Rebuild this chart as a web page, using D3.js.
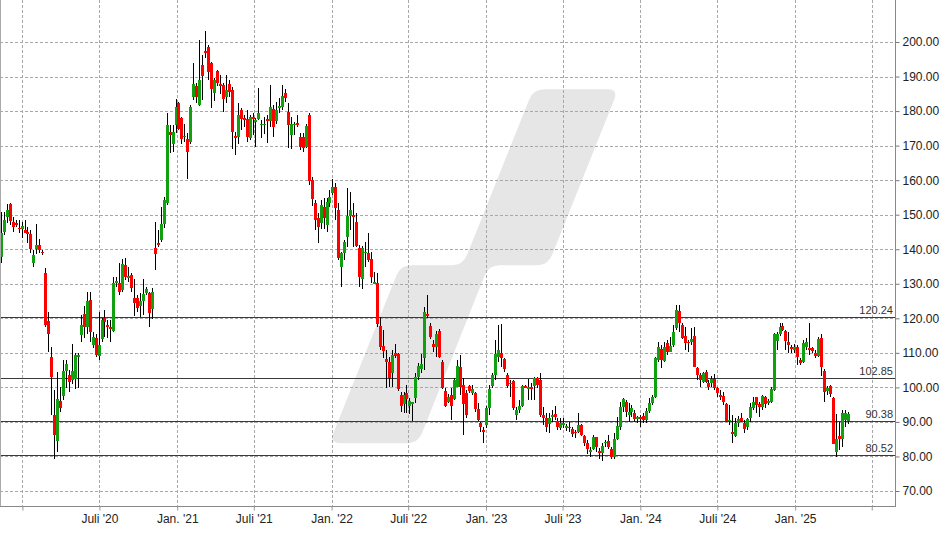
<!DOCTYPE html>
<html><head><meta charset="utf-8">
<script src="https://cdn.jsdelivr.net/npm/d3@7"></script>
<style>
body{margin:0;background:#fff;}
svg{display:block;font-family:"Liberation Sans",Arial,sans-serif;}
</style>
</head><body>
<svg id="chart" width="948" height="534"></svg>
<script>
// ---------- DATA (weekly candles) ----------
const firstWeek = "2019-11-11";
const open = [
137.8,145.1,149.2,153.1,148.0,147.7,146.2,145.8,145.6,145.1,
144.4,136.1,140.0,141.2,139.3,133.0,119.2,108.9,92.0,84.6,
96.1,97.6,104.8,103.6,102.1,102.3,108.9,115.1,121.2,117.6,
125.3,112.3,114.4,109.2,113.9,120.2,118.0,117.4,116.4,130.1,
130.1,128.2,135.4,131.8,132.5,126.0,125.8,123.5,125.1,127.4,
127.2,122.6,140.4,141.8,142.7,147.3,153.5,173.9,170.4,176.0,
182.2,177.9,172.4,171.9,171.1,184.2,187.3,181.8,193.3,197.4,
198.5,193.8,185.3,191.6,187.8,187.5,184.2,187.8,186.1,172.8,
172.6,180.3,177.9,177.6,172.3,178.4,177.0,177.6,175.9,176.0,
177.6,177.2,180.5,177.2,181.0,181.3,185.3,179.8,173.1,176.0,
176.6,172.6,172.6,169.5,178.9,160.0,153.3,149.1,147.5,152.1,
147.0,153.3,156.2,157.9,151.4,134.9,139.0,143.6,149.6,149.9,
148.0,140.3,131.3,138.9,138.8,137.1,130.2,130.1,117.8,112.0,
108.1,107.4,104.1,110.0,109.8,97.8,95.2,98.3,94.6,95.4,
96.8,103.1,105.2,108.4,121.2,117.8,112.6,111.8,116.4,107.4,
99.0,95.9,97.8,96.5,100.2,106.0,100.7,98.5,100.4,98.5,
98.3,93.6,89.6,87.7,89.1,93.9,100.4,103.6,108.7,110.0,
108.1,103.6,101.0,101.9,92.0,93.4,94.6,100.4,99.6,100.0,
100.4,102.6,102.0,92.0,91.0,89.4,91.8,92.3,90.4,88.1,
89.4,88.6,88.6,87.9,87.2,87.2,89.1,85.9,84.0,81.4,
82.3,85.5,81.6,81.1,84.1,84.5,82.1,79.9,85.2,88.6,
94.4,95.9,92.0,92.9,92.7,90.8,91.5,91.7,90.6,93.3,
95.6,97.1,107.9,111.0,107.7,112.9,110.3,112.3,117.1,122.2,
118.1,114.9,113.2,113.2,114.9,105.5,103.6,101.7,104.6,101.4,
101.4,102.3,99.7,97.8,97.5,95.2,90.3,87.2,85.9,89.6,
91.0,89.8,88.4,91.0,94.0,97.1,95.2,94.4,97.3,95.6,
95.9,99.2,113.5,115.6,117.8,116.4,113.1,111.6,110.8,111.8,
107.9,107.4,111.8,111.3,111.3,110.0,109.1,114.2,104.8,99.0,
100.4,96.8,81.4,85.9,85.0,90.7,90.3];
const high = [
150.8,150.9,153.1,153.3,149.4,148.5,148.5,148.0,148.5,146.5,
145.6,139.8,147.2,143.1,139.8,134.5,121.9,111.8,99.2,104.5,
100.1,107.9,107.9,105.0,112.7,109.9,109.9,120.9,123.6,127.7,
127.7,116.1,115.6,121.9,120.0,122.4,119.5,119.5,132.0,132.0,
135.9,137.2,137.4,134.9,133.0,131.5,126.7,127.2,131.5,129.1,
127.7,128.7,148.0,145.5,152.1,155.2,179.3,175.9,175.9,183.5,
182.7,178.4,176.4,173.6,181.8,194.0,188.0,200.6,196.2,203.2,
199.1,194.3,189.5,191.9,190.4,188.0,190.4,189.0,187.1,174.0,
182.2,180.8,178.9,180.3,178.9,179.3,177.9,186.6,177.4,178.4,
178.9,187.5,181.8,182.7,183.7,187.5,186.3,182.2,178.4,176.9,
178.9,173.6,173.6,176.4,179.3,160.8,154.3,150.4,154.3,154.7,
154.7,157.1,160.2,159.1,153.3,139.3,142.7,157.6,156.7,153.3,
150.4,141.2,141.0,142.2,144.6,139.3,133.5,133.2,120.5,116.6,
110.8,108.9,110.8,112.7,110.0,98.7,98.7,100.7,96.8,95.8,
104.1,107.1,109.8,123.4,126.7,118.5,113.7,116.4,116.8,107.9,
99.7,98.1,99.7,102.6,107.9,109.4,102.6,99.2,100.7,100.7,
98.8,95.4,90.1,88.6,94.6,100.7,104.1,113.7,118.1,118.3,
108.4,104.1,102.1,102.1,94.4,96.3,100.7,100.7,102.3,101.2,
103.1,103.1,104.3,94.4,92.5,92.5,93.4,94.6,91.0,91.0,
91.0,89.5,90.1,88.6,87.8,92.5,89.4,86.2,84.8,82.8,
86.2,85.7,82.4,83.8,84.8,86.2,82.8,86.7,91.5,95.9,
96.8,96.3,95.4,94.9,93.5,91.7,92.0,92.5,93.9,96.8,
97.8,108.9,113.2,112.3,113.2,113.7,114.7,118.1,123.9,123.9,
118.5,117.4,113.7,117.1,117.4,106.0,104.1,104.6,105.0,102.1,
103.3,103.9,100.2,99.2,98.8,95.4,94.9,92.0,91.0,91.7,
92.5,90.6,91.0,95.4,97.3,97.3,95.9,97.8,97.5,96.5,
100.2,115.8,116.1,118.5,118.5,116.6,116.1,112.3,112.7,112.3,
108.4,113.7,114.2,118.5,111.8,110.8,114.7,115.6,105.2,100.4,
100.7,97.3,92.3,90.1,93.4,93.4,92.8];
const low = [
136.0,144.1,147.7,147.0,145.1,146.5,144.6,143.2,144.6,141.7,
139.0,134.8,138.6,138.8,138.3,117.6,110.3,92.0,79.4,81.4,
93.0,96.3,99.7,98.7,101.1,99.4,99.7,113.2,114.2,115.6,
113.0,111.3,108.9,107.9,113.2,114.7,114.2,113.2,116.1,129.1,
126.7,127.7,131.1,130.6,127.7,120.6,121.9,120.5,120.9,126.7,
117.4,119.9,134.0,140.7,142.2,146.1,152.8,167.8,168.2,173.6,
174.5,170.6,171.1,160.3,170.6,183.2,182.2,181.5,183.2,195.3,
189.0,181.0,183.0,187.3,184.9,179.8,182.4,184.0,168.9,167.3,
170.6,174.5,175.5,171.1,171.6,173.1,169.7,177.4,172.1,173.4,
170.8,175.5,172.6,176.4,179.3,180.3,182.7,169.2,168.9,173.1,
175.5,168.7,168.2,169.2,158.6,152.5,145.6,141.9,146.0,146.0,
145.1,152.3,155.7,148.5,136.9,129.2,136.9,140.7,145.6,140.7,
140.7,129.2,128.4,134.9,136.4,130.1,129.9,117.6,110.8,108.4,
99.7,100.2,100.2,108.4,99.0,92.9,92.5,92.5,92.3,90.4,
95.4,102.1,104.1,105.0,120.0,113.9,110.3,108.7,108.4,99.4,
94.4,95.6,90.6,96.3,100.0,97.8,86.2,91.0,98.5,97.8,
93.0,90.4,87.2,83.8,88.1,92.0,99.7,102.1,107.4,106.0,
104.5,99.7,97.3,93.4,90.6,92.5,94.4,99.7,96.3,96.3,
96.3,99.7,91.3,89.1,87.2,86.9,90.1,90.6,87.7,87.7,
88.1,87.5,87.2,85.7,85.4,86.7,85.9,83.0,80.7,79.9,
81.9,81.4,79.4,78.8,82.8,82.3,79.4,79.4,84.8,87.7,
93.0,91.5,90.1,91.5,90.1,89.8,88.6,89.8,89.6,92.5,
94.9,96.8,107.4,105.5,107.4,109.4,110.3,111.6,116.6,116.1,
113.9,110.8,110.3,112.3,105.8,102.1,100.2,101.2,101.2,99.2,
100.2,99.2,97.3,96.3,94.9,90.1,89.1,84.0,85.7,88.6,
90.1,86.7,87.7,90.1,93.5,92.7,91.5,93.5,93.9,95.0,
95.4,99.0,110.8,114.9,116.4,110.8,109.9,109.9,109.9,106.5,
106.5,107.0,110.8,109.4,110.0,108.4,108.9,103.3,95.9,97.8,
97.3,83.6,79.9,81.9,82.8,88.6,89.4];
const close = [
144.7,148.5,151.5,148.3,146.5,147.1,145.9,146.7,144.8,144.4,
140.1,138.3,141.2,139.8,138.8,118.0,115.6,103.1,86.2,96.6,
94.1,104.8,106.9,101.6,104.8,109.4,109.3,118.0,117.6,125.1,
115.9,114.5,109.4,112.3,119.5,119.0,117.6,116.8,130.1,130.9,
127.7,135.7,132.0,132.2,128.9,124.3,122.9,125.1,127.0,128.5,
121.4,127.7,138.6,141.3,147.3,154.2,175.9,173.2,173.9,181.1,
174.7,171.8,172.8,168.2,181.1,187.8,184.0,189.0,190.2,196.9,
191.4,186.3,189.0,188.2,187.3,183.4,186.1,185.6,174.0,172.3,
178.9,177.6,177.6,172.4,178.4,177.6,177.4,179.5,176.3,176.3,
177.0,181.1,175.3,180.3,181.5,184.4,183.7,176.0,176.3,176.3,
176.1,169.7,169.2,175.7,159.8,154.4,148.5,146.5,152.8,148.9,
153.8,155.2,157.9,151.8,137.6,138.8,142.2,149.6,151.4,149.4,
141.0,132.1,140.3,139.2,136.9,132.1,130.5,118.3,111.8,110.6,
107.4,102.6,109.4,109.0,99.4,94.6,97.8,96.5,96.1,95.7,
103.1,106.2,106.9,121.9,120.7,114.5,111.6,115.4,108.7,99.7,
94.6,97.1,94.6,102.1,106.2,100.0,95.2,92.0,99.0,99.6,
93.6,90.6,88.4,87.2,93.9,99.4,103.6,109.7,110.8,108.4,
105.2,100.4,101.4,93.9,93.4,94.6,100.4,100.0,100.0,99.6,
102.6,100.7,92.0,91.0,88.6,91.0,92.0,91.3,88.4,89.6,
89.6,88.8,88.2,86.5,86.7,89.1,86.2,83.8,82.1,81.9,
85.7,82.6,81.1,83.0,84.3,82.8,79.9,85.2,88.8,94.4,
96.5,93.0,93.0,93.9,90.8,91.3,90.8,90.6,93.3,95.6,
97.3,108.4,111.6,107.9,111.8,110.3,112.0,116.1,122.4,118.7,
114.2,112.8,112.8,113.9,106.0,103.6,102.0,104.1,101.7,100.2,
102.3,99.7,98.3,97.3,95.9,90.4,90.6,86.5,89.6,90.8,
90.4,87.9,90.8,94.2,95.9,94.9,94.4,97.5,95.2,96.1,
99.4,115.5,115.6,117.6,116.6,113.5,112.3,111.0,111.6,108.7,
107.2,112.8,113.2,110.8,110.6,109.1,113.9,106.0,98.8,99.7,
98.1,83.6,85.2,85.2,92.5,92.5,92.3];

const levels = [120.24, 102.85, 90.38, 80.52];
const yTicks = [70, 80, 90, 100, 110, 120, 130, 140, 150, 160, 170, 180, 190, 200];
const xGridDates = ["2020-01-01","2020-07-01","2021-01-01","2021-07-01","2022-01-01","2022-07-01",
                    "2023-01-01","2023-07-01","2024-01-01","2024-07-01","2025-01-01","2025-07-01"];
const xTickLabels = ["","Juli '20","Jan. '21","Juli '21","Jan. '22","Juli '22",
                     "Jan. '23","Juli '23","Jan. '24","Juli '24","Jan. '25",""];
const xDomain = ["2019-11-09", "2025-08-25"];
const yDomain = [65.66, 212.16];

// ---------- LAYOUT ----------
const W = 948, H = 534;
const plotL = 0, plotR = 895, plotT = 0, plotB = 506;
const parse = d3.utcParse("%Y-%m-%d");
const start = parse(firstWeek);
const candles = open.map((o, i) => ({
  date: d3.utcDay.offset(start, 7 * i), o, h: high[i], l: low[i], c: close[i]
}));

const svg = d3.select("#chart");
const x = d3.scaleUtc().domain(xDomain.map(parse)).range([plotL, plotR]);
const y = d3.scaleLinear().domain(yDomain).range([plotB, plotT]);

// ---------- WATERMARK ----------
function roundedPath(pts, r) {
  const n = pts.length; let d = "";
  for (let i = 0; i < n; i++) {
    const p0 = pts[(i - 1 + n) % n], p1 = pts[i], p2 = pts[(i + 1) % n];
    const v1 = [p0[0] - p1[0], p0[1] - p1[1]], v2 = [p2[0] - p1[0], p2[1] - p1[1]];
    const l1 = Math.hypot(v1[0], v1[1]), l2 = Math.hypot(v2[0], v2[1]);
    const rr = Math.min(r, l1 / 2, l2 / 2);
    const a = [p1[0] + v1[0] / l1 * rr, p1[1] + v1[1] / l1 * rr];
    const b = [p1[0] + v2[0] / l2 * rr, p1[1] + v2[1] / l2 * rr];
    d += (i === 0 ? "M" : "L") + a[0] + "," + a[1] + "Q" + p1[0] + "," + p1[1] + " " + b[0] + "," + b[1];
  }
  return d + "Z";
}
const logo = [[533.3, 89.3], [618.3, 89.3], [548, 265.3], [488.7, 265.3],
              [418, 443.3], [329.3, 443.3], [400.5, 265.3], [462.9, 265.3]];
svg.append("path").attr("d", roundedPath(logo, 11)).attr("fill", "#e6e6e6");

// ---------- GRID ----------
const grid = svg.append("g").attr("shape-rendering", "crispEdges");
grid.selectAll("line.h").data(yTicks).join("line")
  .attr("x1", plotL).attr("x2", plotR)
  .attr("y1", d => Math.round(y(d)) + 0.5).attr("y2", d => Math.round(y(d)) + 0.5)
  .attr("stroke", "#a8a8a8").attr("stroke-dasharray", "3,2");
grid.selectAll("line.v").data(xGridDates).join("line")
  .attr("x1", d => Math.round(x(parse(d))) + 0.5).attr("x2", d => Math.round(x(parse(d))) + 0.5)
  .attr("y1", plotT).attr("y2", plotB)
  .attr("stroke", "#a8a8a8").attr("stroke-dasharray", "3,2");

// ---------- LEVEL LINES ----------
const lv = svg.append("g");
lv.selectAll("line").data(levels).join("line")
  .attr("shape-rendering", "crispEdges")
  .attr("x1", plotL).attr("x2", plotR)
  .attr("y1", d => Math.round(y(d)) + 0.5).attr("y2", d => Math.round(y(d)) + 0.5)
  .attr("stroke", "#3a3a3a");
lv.selectAll("text").data(levels).join("text")
  .attr("x", plotR - 2).attr("y", d => Math.round(y(d)) - 3)
  .attr("text-anchor", "end").attr("font-size", 11).attr("fill", "#333")
  .text(d => d.toFixed(2));

// ---------- CANDLES ----------
const cg = svg.append("g").attr("shape-rendering", "crispEdges");
const cx = d => Math.round(x(d.date));
cg.selectAll("line").data(candles).join("line")
  .attr("x1", d => cx(d) + 0.5).attr("x2", d => cx(d) + 0.5)
  .attr("y1", d => y(d.h)).attr("y2", d => y(d.l))
  .attr("stroke", "#000").attr("stroke-width", 1);
cg.selectAll("rect").data(candles).join("rect")
  .attr("x", d => cx(d) - 1).attr("width", 3)
  .attr("y", d => y(Math.max(d.o, d.c)))
  .attr("height", d => Math.max(1.5, Math.abs(y(d.o) - y(d.c))))
  .attr("fill", d => d.c >= d.o ? "#10a010" : "#ff0000");

// ---------- FRAME ----------
const fr = svg.append("g").attr("shape-rendering", "crispEdges");
fr.append("line").attr("x1", 0.5).attr("x2", 0.5).attr("y1", plotT).attr("y2", plotB).attr("stroke", "#aaa");
fr.append("line").attr("x1", plotR + 0.5).attr("x2", plotR + 0.5).attr("y1", plotT).attr("y2", plotB + 0.5).attr("stroke", "#888");
fr.append("line").attr("x1", plotL).attr("x2", plotR + 1).attr("y1", plotB + 0.5).attr("y2", plotB + 0.5).attr("stroke", "#888");

// ---------- AXES ----------
const yAxis = d3.axisRight(y).tickValues(yTicks).tickFormat(d3.format(".2f")).tickSize(4).tickPadding(3);
const ya = svg.append("g").attr("transform", `translate(${plotR + 0.5},0)`).call(yAxis);
ya.select(".domain").remove();
ya.selectAll(".tick line").attr("stroke", "#777");
ya.selectAll(".tick text").attr("font-size", 12).attr("fill", "#222")
  .attr("font-family", "'Liberation Sans',Arial,sans-serif");

const xAxis = d3.axisBottom(x).tickValues(xGridDates.map(parse))
  .tickFormat((d, i) => xTickLabels[i]).tickSize(4).tickPadding(4);
const xa = svg.append("g").attr("transform", `translate(0,${plotB + 0.5})`).call(xAxis);
xa.select(".domain").remove();
xa.selectAll(".tick line").attr("stroke", "#999");
xa.selectAll(".tick text").attr("font-size", 12).attr("fill", "#222")
  .attr("font-family", "'Liberation Sans',Arial,sans-serif");
</script>
</body></html>
